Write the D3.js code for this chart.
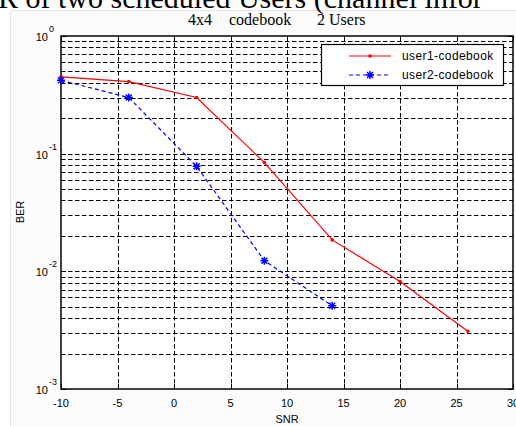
<!DOCTYPE html>
<html>
<head>
<meta charset="utf-8">
<script src="https://cdn.jsdelivr.net/npm/d3@7"></script>
<style>
  body { margin: 0; background: #fff; }
  svg { display: block; }
  text { font-family: Arial, "Liberation Sans", sans-serif; }
</style>
</head>
<body>
<script>
// data
const snr1 = [-10, -4, 2, 8, 14, 20, 26];
const ber1 = [0.45, 0.41, 0.30, 0.084, 0.0185, 0.0082, 0.0031];
const snr2 = [-10, -4, 2, 8, 14];
const ber2 = [0.42, 0.30, 0.078, 0.0123, 0.0051];
const xTicks = [-10, -5, 0, 5, 10, 15, 20, 25, 30];
const yDecades = [-3, -2, -1, 0];
const seriesNames = ["user1-codebook", "user2-codebook"];
const titleParts = ["4x4", "codebook", "2 Users"];

const width = 516, height = 426;
const margin = {top: 36, right: 3, bottom: 37, left: 61};

const svg = d3.select("body").append("svg")
    .attr("width", width)
    .attr("height", height);

// faint figure panel
svg.append("rect")
    .attr("x", 10.5).attr("y", 10.5)
    .attr("width", width - 10).attr("height", height - 10)
    .attr("fill", "#fcfcfc")
    .attr("stroke", "#e6e6e6");

// cut-off caption from the document above the figure
svg.append("text")
    .attr("x", -2).attr("y", 8)
    .style("font-family", "'Liberation Serif', 'Times New Roman', serif")
    .style("font-size", "30px")
    .text("R of two scheduled Users (channel infor");

const x = d3.scaleLinear()
    .domain([-10, 30])
    .range([margin.left, width - margin.right]);

const y = d3.scaleLog()
    .domain([1e-3, 1])
    .range([height - margin.bottom, margin.top]);

const x0 = x.range()[0], x1 = x.range()[1];
const y0 = y.range()[0], y1 = y.range()[1];

svg.append("rect")
    .attr("x", x0).attr("y", y1)
    .attr("width", x1 - x0).attr("height", y0 - y1)
    .attr("fill", "#fff");

// minor + major y values
const yGrid = [];
yDecades.slice(0, -1).forEach(e => {
  for (let k = 1; k <= 9; k++) yGrid.push(k * Math.pow(10, e));
});

const grid = svg.append("g")
    .attr("stroke", "#000")
    .attr("stroke-width", 1)
    .attr("stroke-dasharray", "4.5,2.5");

grid.selectAll(".hg")
  .data(yGrid.filter(v => v > 1e-3))
  .join("line")
    .attr("x1", x0).attr("x2", x1)
    .attr("y1", d => Math.round(y(d)) + 0.5)
    .attr("y2", d => Math.round(y(d)) + 0.5);

grid.selectAll(".vg")
  .data(xTicks.slice(1, -1))
  .join("line")
    .attr("x1", d => Math.round(x(d)) + 0.5)
    .attr("x2", d => Math.round(x(d)) + 0.5)
    .attr("y1", y1).attr("y2", y0);

// ticks (inside, on all four sides)
const ticks = svg.append("g").attr("stroke", "#000").attr("stroke-width", 1);
xTicks.forEach(t => {
  const px = Math.round(x(t)) + 0.5;
  ticks.append("line").attr("x1", px).attr("x2", px).attr("y1", y0).attr("y2", y0 - 5);
  ticks.append("line").attr("x1", px).attr("x2", px).attr("y1", y1).attr("y2", y1 + 5);
});
yGrid.concat([1]).forEach(v => {
  const py = Math.round(y(v)) + 0.5;
  const major = Math.abs(Math.log10(v) - Math.round(Math.log10(v))) < 1e-9;
  const len = major ? 5 : 3;
  ticks.append("line").attr("x1", x0).attr("x2", x0 + len).attr("y1", py).attr("y2", py);
  ticks.append("line").attr("x1", x1).attr("x2", x1 - len).attr("y1", py).attr("y2", py);
});

// axes box
svg.append("rect")
    .attr("x", x0).attr("y", y1)
    .attr("width", x1 - x0).attr("height", y0 - y1)
    .attr("fill", "none")
    .attr("stroke", "#000")
    .attr("stroke-width", 1.5);

// tick labels
svg.append("g")
  .selectAll("text")
  .data(xTicks)
  .join("text")
    .attr("x", d => x(d))
    .attr("y", y0 + 18)
    .attr("text-anchor", "middle")
    .style("font-size", "11px")
    .text(d => d);

const yl = svg.append("g")
  .selectAll("g")
  .data(yDecades)
  .join("g")
    .attr("transform", d => `translate(0,${y(Math.pow(10, d))})`);
yl.append("text")
    .attr("x", 48).attr("y", 5)
    .attr("text-anchor", "end")
    .style("font-size", "11px")
    .text("10");
yl.append("text")
    .attr("x", 49).attr("y", -4)
    .style("font-size", "9px")
    .text(d => d);

// axis labels and title
svg.append("text")
    .attr("x", (x0 + x1) / 2).attr("y", 423)
    .attr("text-anchor", "middle")
    .style("font-size", "11px")
    .text("SNR");

svg.append("text")
    .attr("transform", "translate(24,212) rotate(-90)")
    .attr("text-anchor", "middle")
    .style("font-size", "11px")
    .text("BER");

svg.append("g")
  .selectAll("text")
  .data(titleParts)
  .join("text")
    .attr("x", (d, i) => [188, 229, 317][i])
    .attr("y", 25)
    .style("font-family", "'Liberation Serif', 'Times New Roman', serif")
    .style("font-size", "16px")
    .text(d => d);

// series
const line = d3.line().x(d => x(d[0])).y(d => y(d[1]));
const d1 = snr1.map((s, i) => [s, ber1[i]]);
const d2 = snr2.map((s, i) => [s, ber2[i]]);

svg.append("path")
    .datum(d1)
    .attr("fill", "none")
    .attr("stroke", "#ff0000")
    .attr("stroke-width", 1.2)
    .attr("d", line);

svg.append("g")
    .attr("fill", "#ff0000")
  .selectAll("circle")
  .data(d1)
  .join("circle")
    .attr("cx", d => x(d[0]))
    .attr("cy", d => y(d[1]))
    .attr("r", 1.8);

svg.append("path")
    .datum(d2)
    .attr("fill", "none")
    .attr("stroke", "#0000ff")
    .attr("stroke-width", 1.2)
    .attr("stroke-dasharray", "4,3")
    .attr("d", line);

const star = "M-4,0L4,0M0,-4L0,4M-3,-3L3,3M-3,3L3,-3";
svg.append("g")
    .attr("stroke", "#0000ff")
    .attr("stroke-width", 1.5)
    .attr("fill", "none")
  .selectAll("path")
  .data(d2)
  .join("path")
    .attr("transform", d => `translate(${x(d[0])},${y(d[1])})`)
    .attr("d", star);

// legend
const lg = svg.append("g").attr("transform", "translate(321,44)");
lg.append("rect")
    .attr("x", 0.5).attr("y", 0.5)
    .attr("width", 182).attr("height", 41)
    .attr("fill", "#fff")
    .attr("stroke", "#000")
    .attr("stroke-width", 1.2);

lg.append("line")
    .attr("x1", 28).attr("x2", 70).attr("y1", 12).attr("y2", 12)
    .attr("stroke", "#ff0000").attr("stroke-width", 1.2);
lg.append("circle").attr("cx", 49).attr("cy", 12).attr("r", 1.8).attr("fill", "#ff0000");

lg.append("line")
    .attr("x1", 28).attr("x2", 70).attr("y1", 31).attr("y2", 31)
    .attr("stroke", "#0000ff").attr("stroke-width", 1.2)
    .attr("stroke-dasharray", "4,3");
lg.append("path")
    .attr("transform", "translate(49,31)")
    .attr("d", star)
    .attr("stroke", "#0000ff").attr("stroke-width", 1.5);

lg.selectAll(".lt")
  .data(seriesNames)
  .join("text")
    .attr("x", 81)
    .attr("y", (d, i) => 16 + i * 19)
    .style("font-size", "12px")
    .style("letter-spacing", "0.4px")
    .text(d => d);
</script>
</body>
</html>
